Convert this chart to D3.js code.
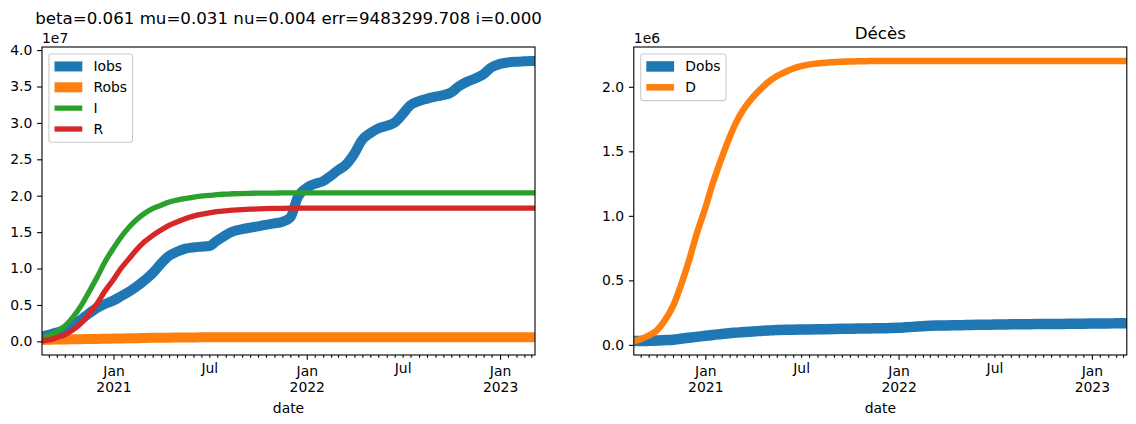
<!DOCTYPE html>
<html>
<head>
<meta charset="utf-8">
<script src="https://cdn.jsdelivr.net/npm/d3@7"></script>
<style>
  html, body { margin: 0; padding: 0; background: #fff; }
  svg { display: block; font-family: "DejaVu Sans", sans-serif; }
</style>
</head>
<body>
<svg id="chart" width="1136" height="424"></svg>
<script>
// ---------------- DATA ----------------
const dates = [
  "2020-08-19","2020-09-01","2020-09-15","2020-10-01","2020-10-15","2020-11-01","2020-11-15","2020-12-01","2020-12-15",
  "2021-01-01","2021-01-15","2021-02-01","2021-02-15","2021-03-01","2021-03-15","2021-04-01","2021-04-15","2021-05-01","2021-05-15","2021-06-01","2021-06-15",
  "2021-07-01","2021-07-15","2021-08-01","2021-08-15","2021-09-01","2021-09-15","2021-10-01","2021-10-15","2021-11-01","2021-11-15","2021-12-01","2021-12-15",
  "2022-01-01","2022-01-15","2022-02-01","2022-02-15","2022-03-01","2022-03-15","2022-04-01","2022-04-15","2022-05-01","2022-05-15","2022-06-01","2022-06-15",
  "2022-07-01","2022-07-15","2022-08-01","2022-08-15","2022-09-01","2022-09-15","2022-10-01","2022-10-15","2022-11-01","2022-11-15","2022-12-01","2022-12-15",
  "2023-01-01","2023-01-15","2023-02-01","2023-02-15","2023-03-01","2023-03-08"
];

// Left panel (units of 1e7)
const Iobs = [0.07,0.09,0.12,0.16,0.22,0.30,0.38,0.46,0.51,
  0.56,0.62,0.69,0.76,0.84,0.93,1.07,1.17,1.23,1.27,1.29,1.30,
  1.31,1.38,1.46,1.51,1.54,1.56,1.58,1.60,1.62,1.64,1.70,1.98,
  2.11,2.16,2.20,2.27,2.35,2.42,2.58,2.76,2.86,2.92,2.96,3.00,
  3.12,3.24,3.30,3.33,3.36,3.38,3.42,3.50,3.57,3.61,3.67,3.76,
  3.81,3.83,3.84,3.845,3.85,3.85];
const Robs = [0.020,0.022,0.024,0.026,0.028,0.030,0.032,0.034,0.036,
  0.038,0.040,0.042,0.044,0.046,0.048,0.050,0.051,0.052,0.053,0.054,0.055,
  0.055,0.055,0.055,0.055,0.055,0.055,0.055,0.055,0.055,0.055,0.055,0.055,
  0.055,0.055,0.055,0.055,0.055,0.055,0.055,0.055,0.055,0.055,0.055,0.055,
  0.055,0.055,0.055,0.055,0.055,0.055,0.055,0.055,0.055,0.055,0.055,0.055,
  0.055,0.055,0.055,0.055,0.055,0.055];
const I = [0.05,0.08,0.13,0.21,0.32,0.49,0.67,0.88,1.08,
  1.28,1.43,1.58,1.68,1.76,1.82,1.87,1.91,1.94,1.96,1.98,1.995,
  2.005,2.015,2.022,2.027,2.030,2.033,2.035,2.036,2.037,2.038,2.039,2.04,
  2.04,2.04,2.04,2.04,2.04,2.04,2.04,2.04,2.04,2.04,2.04,2.04,
  2.04,2.04,2.04,2.04,2.04,2.04,2.04,2.04,2.04,2.04,2.04,2.04,
  2.04,2.04,2.04,2.04,2.04,2.04];
const R = [0.005,0.02,0.05,0.09,0.15,0.25,0.37,0.52,0.68,
  0.85,1.00,1.15,1.27,1.37,1.45,1.53,1.59,1.64,1.68,1.72,1.745,
  1.765,1.78,1.793,1.802,1.81,1.815,1.819,1.822,1.825,1.827,1.829,1.83,
  1.83,1.83,1.83,1.83,1.83,1.83,1.83,1.83,1.83,1.83,1.83,1.83,
  1.83,1.83,1.83,1.83,1.83,1.83,1.83,1.83,1.83,1.83,1.83,1.83,
  1.83,1.83,1.83,1.83,1.83,1.83];

// Right panel (units of 1e6)
const Dobs = [0.030,0.030,0.031,0.033,0.036,0.040,0.047,0.055,0.062,
  0.070,0.077,0.084,0.090,0.095,0.100,0.104,0.108,0.112,0.115,0.117,0.118,
  0.119,0.120,0.121,0.122,0.123,0.124,0.125,0.126,0.127,0.128,0.129,0.130,
  0.132,0.136,0.141,0.145,0.148,0.150,0.151,0.152,0.153,0.154,0.155,0.156,
  0.157,0.158,0.159,0.160,0.160,0.161,0.161,0.162,0.162,0.163,0.163,0.164,
  0.165,0.166,0.166,0.167,0.168,0.168];
const D = [0.030,0.045,0.07,0.11,0.18,0.30,0.45,0.65,0.85,
  1.06,1.25,1.45,1.60,1.73,1.83,1.92,1.98,2.04,2.08,2.115,2.14,
  2.16,2.172,2.181,2.187,2.191,2.194,2.196,2.198,2.199,2.2,2.2,2.2,
  2.2,2.2,2.2,2.2,2.2,2.2,2.2,2.2,2.2,2.2,2.2,2.2,
  2.2,2.2,2.2,2.2,2.2,2.2,2.2,2.2,2.2,2.2,2.2,2.2,
  2.2,2.2,2.2,2.2,2.2,2.2];

const leftYTicks = [0.0,0.5,1.0,1.5,2.0,2.5,3.0,3.5,4.0];
const rightYTicks = [0.0,0.5,1.0,1.5,2.0];
const majorXTicks = ["2021-01-01","2022-01-01","2023-01-01"];
const labelledMinor = ["2021-07-01","2022-07-01"];

const leftTitle = "beta=0.061 mu=0.031 nu=0.004 err=9483299.708 i=0.000";
const rightTitle = "Décès";
const leftOffset = "1e7";
const rightOffset = "1e6";
const xLabel = "date";

// ---------------- DRAW ----------------
const parse = d3.utcParse("%Y-%m-%d");
const dts = dates.map(parse);
const svg = d3.select("#chart");
const FS = 13.9, TFS = 16.67;
const MAJ = 4.86, MIN = 2.78, PAD = 4.86;
const axTop = 47, axBottom = 355;

// minor ticks: 1st and 16th of each month, excluding majors
const minorTicks = [];
d3.utcMonth.range(d3.utcMonth.floor(dts[0]), dts[dts.length-1]).forEach(m => {
  const a = m, b = d3.utcDay.offset(m, 15);
  if (a.getUTCMonth() !== 0) minorTicks.push(a);
  minorTicks.push(b);
});

function panel(cfg) {
  const x = d3.scaleUtc().domain(d3.extent(dts)).range([cfg.left, cfg.right]);
  const all = cfg.series.flatMap(s => s.values);
  const [mn, mx] = d3.extent(all);
  const m = (mx - mn) * 0.05;
  const y = d3.scaleLinear().domain([mn - m, mx + m]).range([axBottom, axTop]);
  const g = svg.append("g");
  const clipId = "clip" + cfg.id;
  g.append("clipPath").attr("id", clipId).append("rect")
    .attr("x", cfg.left).attr("y", axTop).attr("width", cfg.right - cfg.left).attr("height", axBottom - axTop);

  const line = d3.line().x((d, i) => x(dts[i])).y(d => y(d)).curve(d3.curveMonotoneX);
  const lg = g.append("g").attr("clip-path", `url(#${clipId})`);
  cfg.series.forEach(s => {
    lg.append("path").datum(s.values).attr("d", line)
      .attr("fill", "none").attr("stroke", s.color).attr("stroke-width", s.w)
      .attr("stroke-linejoin", "round").attr("stroke-linecap", "square");
  });

  // Y axis
  const ya = g.append("g").attr("transform", `translate(${cfg.left},0)`)
    .call(d3.axisLeft(y).tickValues(cfg.yTicks).tickSize(MAJ).tickPadding(PAD).tickFormat(d3.format(".1f")));
  ya.select(".domain").remove();
  ya.selectAll("line").attr("stroke", "#000").attr("stroke-width", 1.1);
  ya.selectAll("text").attr("font-size", FS).attr("fill", "#000").attr("font-family", "DejaVu Sans");

  // X axis major
  const xa = g.append("g").attr("transform", `translate(0,${axBottom})`)
    .call(d3.axisBottom(x).tickValues(majorXTicks.map(parse)).tickSize(MAJ).tickPadding(PAD).tickFormat(""));
  xa.select(".domain").remove();
  xa.selectAll("line").attr("stroke", "#000").attr("stroke-width", 1.1);
  xa.selectAll(".tick text").each(function(d) {
    const t = d3.select(this).attr("font-size", FS).attr("fill", "#000").attr("font-family", "DejaVu Sans").attr("dy", "0.78em");
    t.append("tspan").attr("x", 0).text(d3.utcFormat("%b")(d));
    t.append("tspan").attr("x", 0).attr("dy", "1.16em").text(d3.utcFormat("%Y")(d));
  });
  // X axis minor
  const lm = labelledMinor.map(s => +parse(s));
  const xm = g.append("g").attr("transform", `translate(0,${axBottom})`)
    .call(d3.axisBottom(x).tickValues(minorTicks.filter(d => d >= dts[0] && d <= dts[dts.length-1]))
      .tickSize(MIN).tickPadding(PAD).tickFormat(d => lm.includes(+d) ? d3.utcFormat("%b")(d) : ""));
  xm.select(".domain").remove();
  xm.selectAll("line").attr("stroke", "#000").attr("stroke-width", 1.1);
  xm.selectAll("text").attr("font-size", FS).attr("fill", "#000").attr("font-family", "DejaVu Sans").attr("dy", "0.78em");

  // frame
  g.append("rect").attr("x", cfg.left).attr("y", axTop).attr("width", cfg.right - cfg.left).attr("height", axBottom - axTop)
    .attr("fill", "none").attr("stroke", "#000").attr("stroke-width", 1.1);

  // offset text
  g.append("text").attr("x", cfg.left).attr("y", axTop - 4).attr("font-size", FS).text(cfg.offset);
  // title
  g.append("text").attr("x", (cfg.left + cfg.right) / 2).attr("y", cfg.titleY).attr("text-anchor", "middle")
    .attr("font-size", TFS).text(cfg.title);
  // x label
  g.append("text").attr("x", (cfg.left + cfg.right) / 2).attr("y", 413).attr("text-anchor", "middle")
    .attr("font-size", FS).text(xLabel);

  // legend
  const bx = cfg.left + 6.94, by = axTop + 6.94;
  const leg = g.append("g");
  const frame = leg.append("rect").attr("x", bx).attr("y", by).attr("rx", 2.8).attr("ry", 2.8)
    .attr("fill", "#fff").attr("fill-opacity", 0.8).attr("stroke", "#cccccc").attr("stroke-width", 1.1);
  let maxW = 0;
  const rowH = 20.85;
  cfg.series.forEach((s, i) => {
    const cy = by + 5.56 + 6.95 + i * rowH;
    leg.append("line").attr("x1", bx + 5.56 + s.w / 2).attr("x2", bx + 5.56 + 27.8 - s.w / 2)
      .attr("y1", cy).attr("y2", cy).attr("stroke", s.color).attr("stroke-width", s.w)
      .attr("stroke-linecap", "square");
    const t = leg.append("text").attr("x", bx + 5.56 + 27.8 + 11.1).attr("y", cy).attr("dy", "0.36em")
      .attr("font-size", FS).text(s.name);
    maxW = Math.max(maxW, t.node().getComputedTextLength());
  });
  frame.attr("width", 5.56 + 27.8 + 11.1 + maxW + 5.56)
    .attr("height", 5.56 * 2 + cfg.series.length * 13.9 + (cfg.series.length - 1) * 6.95 + 0.8);
}

panel({
  id: "L", left: 42, right: 535, yTicks: leftYTicks, offset: leftOffset, title: leftTitle, titleY: 24,
  series: [
    {name: "Iobs", values: Iobs, color: "#1f77b4", w: 10},
    {name: "Robs", values: Robs, color: "#ff7f0e", w: 10},
    {name: "I", values: I, color: "#2ca02c", w: 5.3},
    {name: "R", values: R, color: "#d62728", w: 5.3}
  ]
});
panel({
  id: "R", left: 633.8, right: 1126.8, yTicks: rightYTicks, offset: rightOffset, title: rightTitle, titleY: 39,
  series: [
    {name: "Dobs", values: Dobs, color: "#1f77b4", w: 10.5},
    {name: "D", values: D, color: "#ff7f0e", w: 6.5}
  ]
});
</script>
</body>
</html>
